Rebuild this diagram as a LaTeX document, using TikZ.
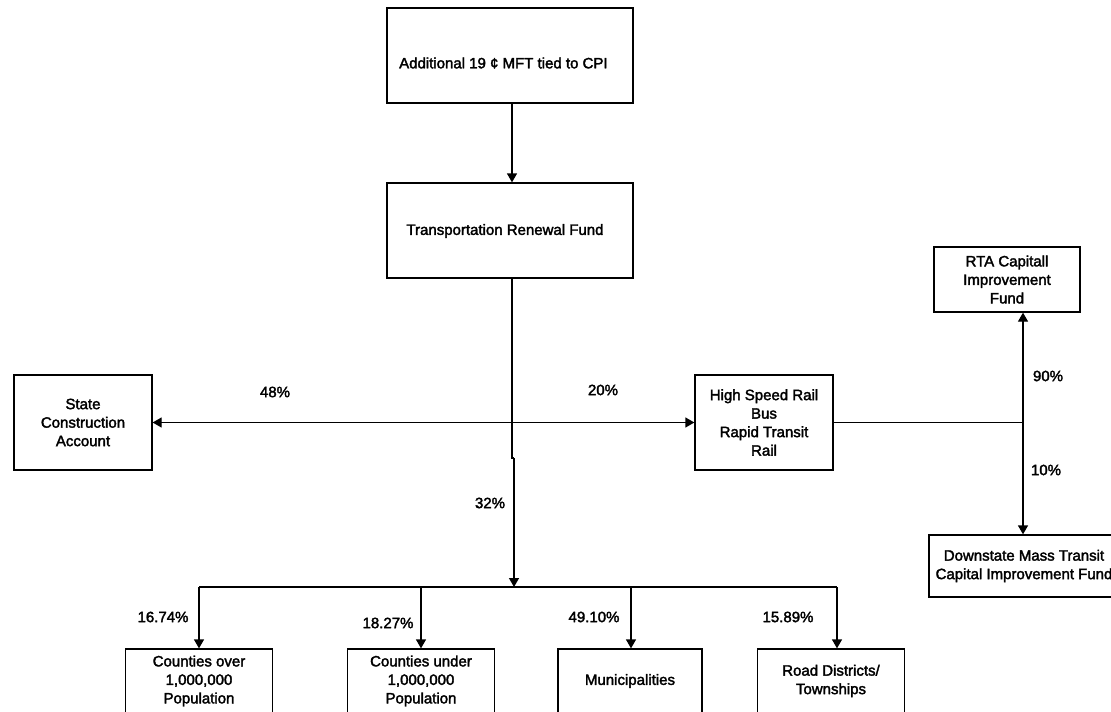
\documentclass[tikz,border=0pt]{standalone}
\usepackage{fontspec}
\setmainfont{Liberation Sans}[BoldFont={Liberation Sans},BoldFeatures={FakeBold=2.2}]
\usetikzlibrary{arrows.meta}
\begin{document}
\begin{tikzpicture}[x=1pt,y=-1pt,
  box/.style={draw,line width=1.3pt,inner sep=0pt,align=center,font=\fontsize{15}{18.5}\selectfont\bfseries},
  txt/.style={inner sep=0pt,font=\fontsize{15}{18.5}\selectfont\bfseries},
  pct/.style={inner sep=0pt,font=\fontsize{15}{18.5}\selectfont\bfseries},
  conn/.style={line width=1.3pt},
  arr/.style={line width=1.3pt,-{Triangle[width=10pt,length=9pt]}},
  barr/.style={line width=1.3pt,{Triangle[width=10pt,length=9pt]}-{Triangle[width=10pt,length=9pt]}}]
\clip (0,0) rectangle (1111,712);
\fill[white] (0,0) rectangle (1111,712);
% boxes
\node[box,minimum width=246pt,minimum height=95pt] (mft) at (510,55.5) {};
\node[txt,anchor=west] (mfttxt) at (399,63) {Additional 19 ¢ MFT tied to CPI};
\node[box,minimum width=246pt,minimum height=95pt] (trf) at (510,230.5) {};
\node[txt] (trftxt) at (505,231) {Transportation Renewal Fund};
\node[box,minimum width=138pt,minimum height=95pt] (sca) at (83,422.5) {State\\Construction\\Account};
\node[box,minimum width=138pt,minimum height=95pt] (hsr) at (764,422.5) {High Speed Rail\\Bus\\Rapid Transit\\Rail};
\node[box,minimum width=146pt,minimum height=65pt] (rta) at (1007,279.5) {RTA Capitall\\Improvement\\Fund};
\node[box,minimum width=190pt,minimum height=62pt] (dmt) at (1024,566) {Downstate Mass Transit\\Capital Improvement Fund};
\node[box,minimum width=147pt,minimum height=64pt] (cov) at (199,681) {Counties over\\1,000,000\\Population};
\node[box,minimum width=147pt,minimum height=64pt] (cun) at (421,681) {Counties under\\1,000,000\\Population};
\node[box,minimum width=144pt,minimum height=64pt] (mun) at (630,681) {Municipalities};
\node[box,minimum width=147pt,minimum height=64pt] (rd) at (831,681) {Road Districts/\\Townships};
% coordinates
\coordinate (t1) at (512,103);
\coordinate (j1) at (512,458);
\coordinate (j2) at (514,458);
\coordinate (bus) at (514,587);
\coordinate (bl) at (199,587);
\coordinate (b2) at (421,587);
\coordinate (b3) at (631,587);
\coordinate (br) at (837,587);
\coordinate (rj) at (1023,422.5);
% connectors
\draw[arr] (t1) -- (t1 |- trf.north);
\draw[conn] (t1 |- trf.south) -- (j1) -- (j2);
\draw[arr] (j2) -- (bus);
\draw[barr] (sca.east) -- (hsr.west);
\draw[conn] (hsr.east) -- (rj);
\draw[arr] (rj) -- (rj |- rta.south);
\draw[arr] (rj) -- (rj |- dmt.north);
\draw[conn] (bl) -- (br);
\draw[arr] (bl) -- (bl |- cov.north);
\draw[arr] (b2) -- (b2 |- cun.north);
\draw[arr] (b3) -- (b3 |- mun.north);
\draw[arr] (br) -- (br |- rd.north);
% labels
\node[pct] (p48) at (275,392) {48\%};
\node[pct] (p20) at (603,390) {20\%};
\node[pct] (p32) at (490,503) {32\%};
\node[pct] (p90) at (1048,376) {90\%};
\node[pct] (p10) at (1046,470) {10\%};
\node[pct] (p1674) at (163,617) {16.74\%};
\node[pct] (p1827) at (388,623) {18.27\%};
\node[pct] (p4910) at (594,617) {49.10\%};
\node[pct] (p1589) at (788,617) {15.89\%};
\end{tikzpicture}
\end{document}
